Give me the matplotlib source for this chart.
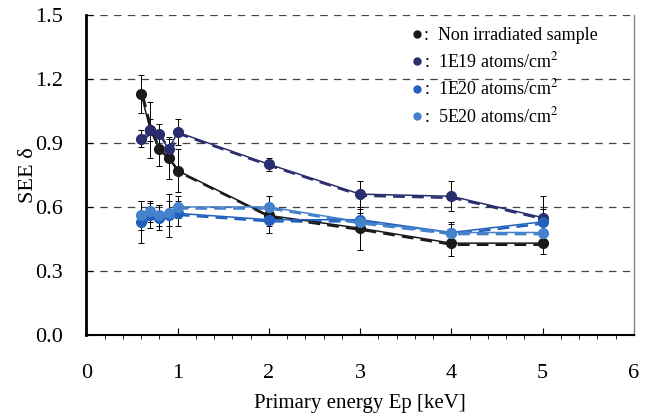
import numpy as np
import matplotlib
matplotlib.use('Agg')
import matplotlib.pyplot as plt
from matplotlib.lines import Line2D
import matplotlib.transforms as mtrans

plt.rcParams['font.family'] = ['Liberation Serif', 'DejaVu Serif']
plt.rcParams['mathtext.fontset'] = 'stix'

energy = [0.6, 0.7, 0.8, 0.9, 1.0, 2, 3, 4, 5]

see_none = [1.13, 0.96, 0.87, 0.83, 0.77, 0.56, 0.50, 0.43, 0.43]
err_none = [0.09, 0.13, 0.08, 0.10, 0.10, 0.05, 0.10, 0.06, 0.05]

see_1e19 = [0.92, 0.96, 0.94, 0.87, 0.95, 0.80, 0.66, 0.65, 0.55]
err_1e19 = [0.04, 0.05, 0.05, 0.05, 0.06, 0.03, 0.06, 0.07, 0.10]

see_1e20 = [0.53, 0.56, 0.55, 0.56, 0.57, 0.54, 0.54, 0.48, 0.53]
err_1e20 = [0.10, 0.06, 0.06, 0.10, 0.06, 0.06, 0.05, 0.04, 0.06]

see_5e20 = [0.56, 0.58, 0.56, 0.57, 0.60, 0.60, 0.53, 0.48, 0.48]
err_5e20 = [0.07, 0.05, 0.05, 0.06, 0.05, 0.05, 0.04, 0.05, 0.05]

labels = ['Non irradiated sample', '1E19 atoms/cm$^2$',
          '1E20 atoms/cm$^2$', '5E20 atoms/cm$^2$']
colors = ['#1a1a1a', '#2a2d6e', '#2160bd', '#4482cc']

fig = plt.figure(figsize=(6.5, 4.17), dpi=100)
ax = fig.add_axes([0.133, 0.197, 0.842, 0.767])

series = [(see_none, err_none), (see_1e19, err_1e19),
          (see_1e20, err_1e20), (see_5e20, err_5e20)]

# dashed copy sits a touch off the solid line, like in the original
shift = mtrans.offset_copy(ax.transData, fig=fig, x=1.2, y=-1.2, units='points')

for (y, e), c in zip(series, colors):
    ax.errorbar(energy, y, yerr=e, fmt='none', ecolor='black',
                elinewidth=0.7, capsize=2, capthick=0.7, zorder=2)
    ax.plot(energy, y, '--', color=c, lw=1.7, dashes=(5, 3), transform=shift, zorder=3)
    ax.plot(energy, y, '-', color=c, lw=1.1, marker='o', markersize=7, zorder=4)

ax.set_xlim(0, 6)
ax.set_ylim(0, 1.5)
ax.set_xticks(np.arange(0, 7, 1))
ax.set_xticks(np.arange(0, 6.01, 0.2), minor=True)
ax.set_yticks(np.arange(0, 1.51, 0.3))
ax.set_yticklabels(['%.1f' % v for v in np.arange(0, 1.51, 0.3)])
ax.tick_params(axis='both', labelsize=16, direction='in')
ax.tick_params(axis='x', which='major', length=5, pad=21)
ax.tick_params(axis='x', which='minor', length=3)
ax.tick_params(axis='y', length=5, pad=17)

ax.yaxis.grid(True, linestyle=(0, (6, 5)), color='#444444', lw=0.9)
ax.set_axisbelow(True)

ax.spines['left'].set_linewidth(2.0)
ax.spines['bottom'].set_linewidth(1.5)
ax.spines['top'].set_visible(False)
ax.spines['right'].set_color('#888888')
ax.spines['right'].set_linewidth(1.0)

ax.set_xlabel('Primary energy Ep [keV]', fontsize=15, labelpad=8)
ax.set_ylabel('SEE δ', fontsize=16, labelpad=-2)

handles = [Line2D([], [], ls='none', marker='o', markersize=5, color=c) for c in colors]
ax.legend(handles, [':  ' + l for l in labels], loc='upper left',
          bbox_to_anchor=(0.565, 1.012), frameon=False, fontsize=13,
          handlelength=0.6, handletextpad=0.05, labelspacing=0.4)

fig.savefig('out.png', dpi=100)
